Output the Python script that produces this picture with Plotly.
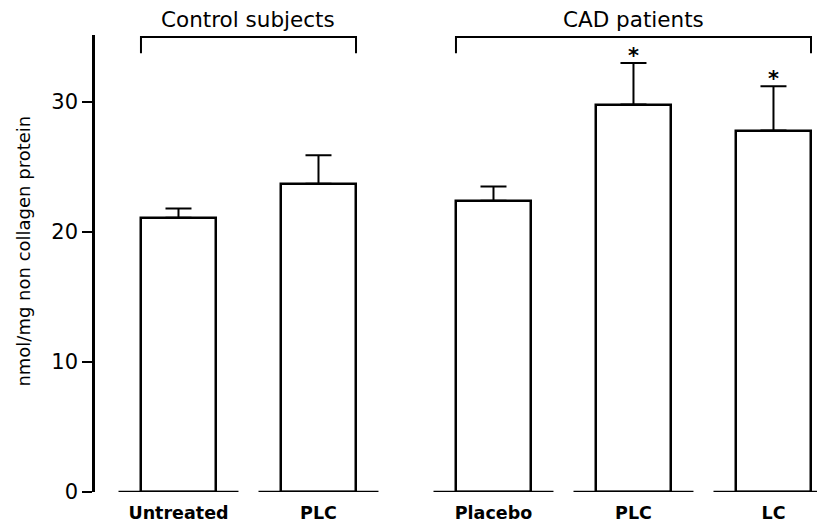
import plotly.graph_objects as go

categories = ["Untreated", "PLC", "Placebo", "PLC", "LC"]
positions = [0, 1, 2.25, 3.25, 4.25]
values = [21.1, 23.7, 22.4, 29.8, 27.8]
errors = [0.7, 2.2, 1.1, 3.2, 3.4]
significant = [False, False, False, True, True]
groups = [("Control subjects", 0, 1), ("CAD patients", 2, 4)]
yticks = [0, 10, 20, 30]
ytitle = "nmol/mg non collagen protein"

BAR_W = 0.536
BASE_W = 0.857
FONT = "DejaVu Sans"

fig = go.Figure()
fig.add_trace(go.Bar(
    x=positions, y=values, width=BAR_W,
    marker=dict(color="white", line=dict(color="black", width=2.5)),
    error_y=dict(type="data", array=errors, arrayminus=[0] * len(errors),
                 symmetric=False, color="black", thickness=2, width=13),
    showlegend=False, hoverinfo="skip",
))

# baseline segments under each bar
for p in positions:
    fig.add_shape(type="line", xref="x", yref="y", x0=p - BASE_W / 2, x1=p + BASE_W / 2,
                  y0=0, y1=0, line=dict(color="black", width=2.5))

# group brackets and titles
for name, i0, i1 in groups:
    xl = positions[i0] - BAR_W / 2
    xr = positions[i1] + BAR_W / 2
    fig.add_shape(type="path", xref="x", yref="y",
                  path=f"M {xl},33.75 L {xl},35.0 L {xr},35.0 L {xr},33.75",
                  line=dict(color="black", width=2))
    fig.add_annotation(x=(xl + xr) / 2, y=1.033, xref="x", yref="paper", text=name,
                       xanchor="center", yanchor="middle", showarrow=False,
                       font=dict(family=FONT, size=21.5, color="black"))

# significance asterisks
for p, v, e, s in zip(positions, values, errors, significant):
    if s:
        fig.add_annotation(x=p, y=v + e + 0.55, xref="x", yref="y", text="<b>*</b>",
                           xanchor="center", yanchor="middle", showarrow=False,
                           font=dict(family=FONT, size=21, color="black"))

# y axis title
fig.add_annotation(x=-0.098, y=0.527, xref="paper", yref="paper", text=ytitle,
                   textangle=-90, xanchor="center", yanchor="middle", showarrow=False,
                   font=dict(family=FONT, size=18, color="black"))

fig.update_layout(
    width=817, height=517,
    margin=dict(l=87, r=0, t=27, b=33),
    plot_bgcolor="white", paper_bgcolor="white",
    bargap=0,
    font=dict(family=FONT, color="black"),
)
fig.update_xaxes(
    range=[-0.5964, 4.618], tickvals=positions,
    ticktext=[f"<b>{c}</b>" for c in categories],
    tickfont=dict(family=FONT, size=17.5, color="black"),
    ticklabelstandoff=8,
    showline=False, showgrid=False, zeroline=False, ticks="", automargin=False,
)
fig.update_yaxes(
    range=[0, 35.15], tickvals=yticks, ticktext=[str(t) for t in yticks],
    tickfont=dict(family=FONT, size=21, color="black"),
    showline=True, linecolor="black", linewidth=2.5,
    ticks="outside", ticklen=10, tickwidth=2, tickcolor="black",
    showgrid=False, zeroline=False, automargin=False,
)

fig.write_html("out.html")
